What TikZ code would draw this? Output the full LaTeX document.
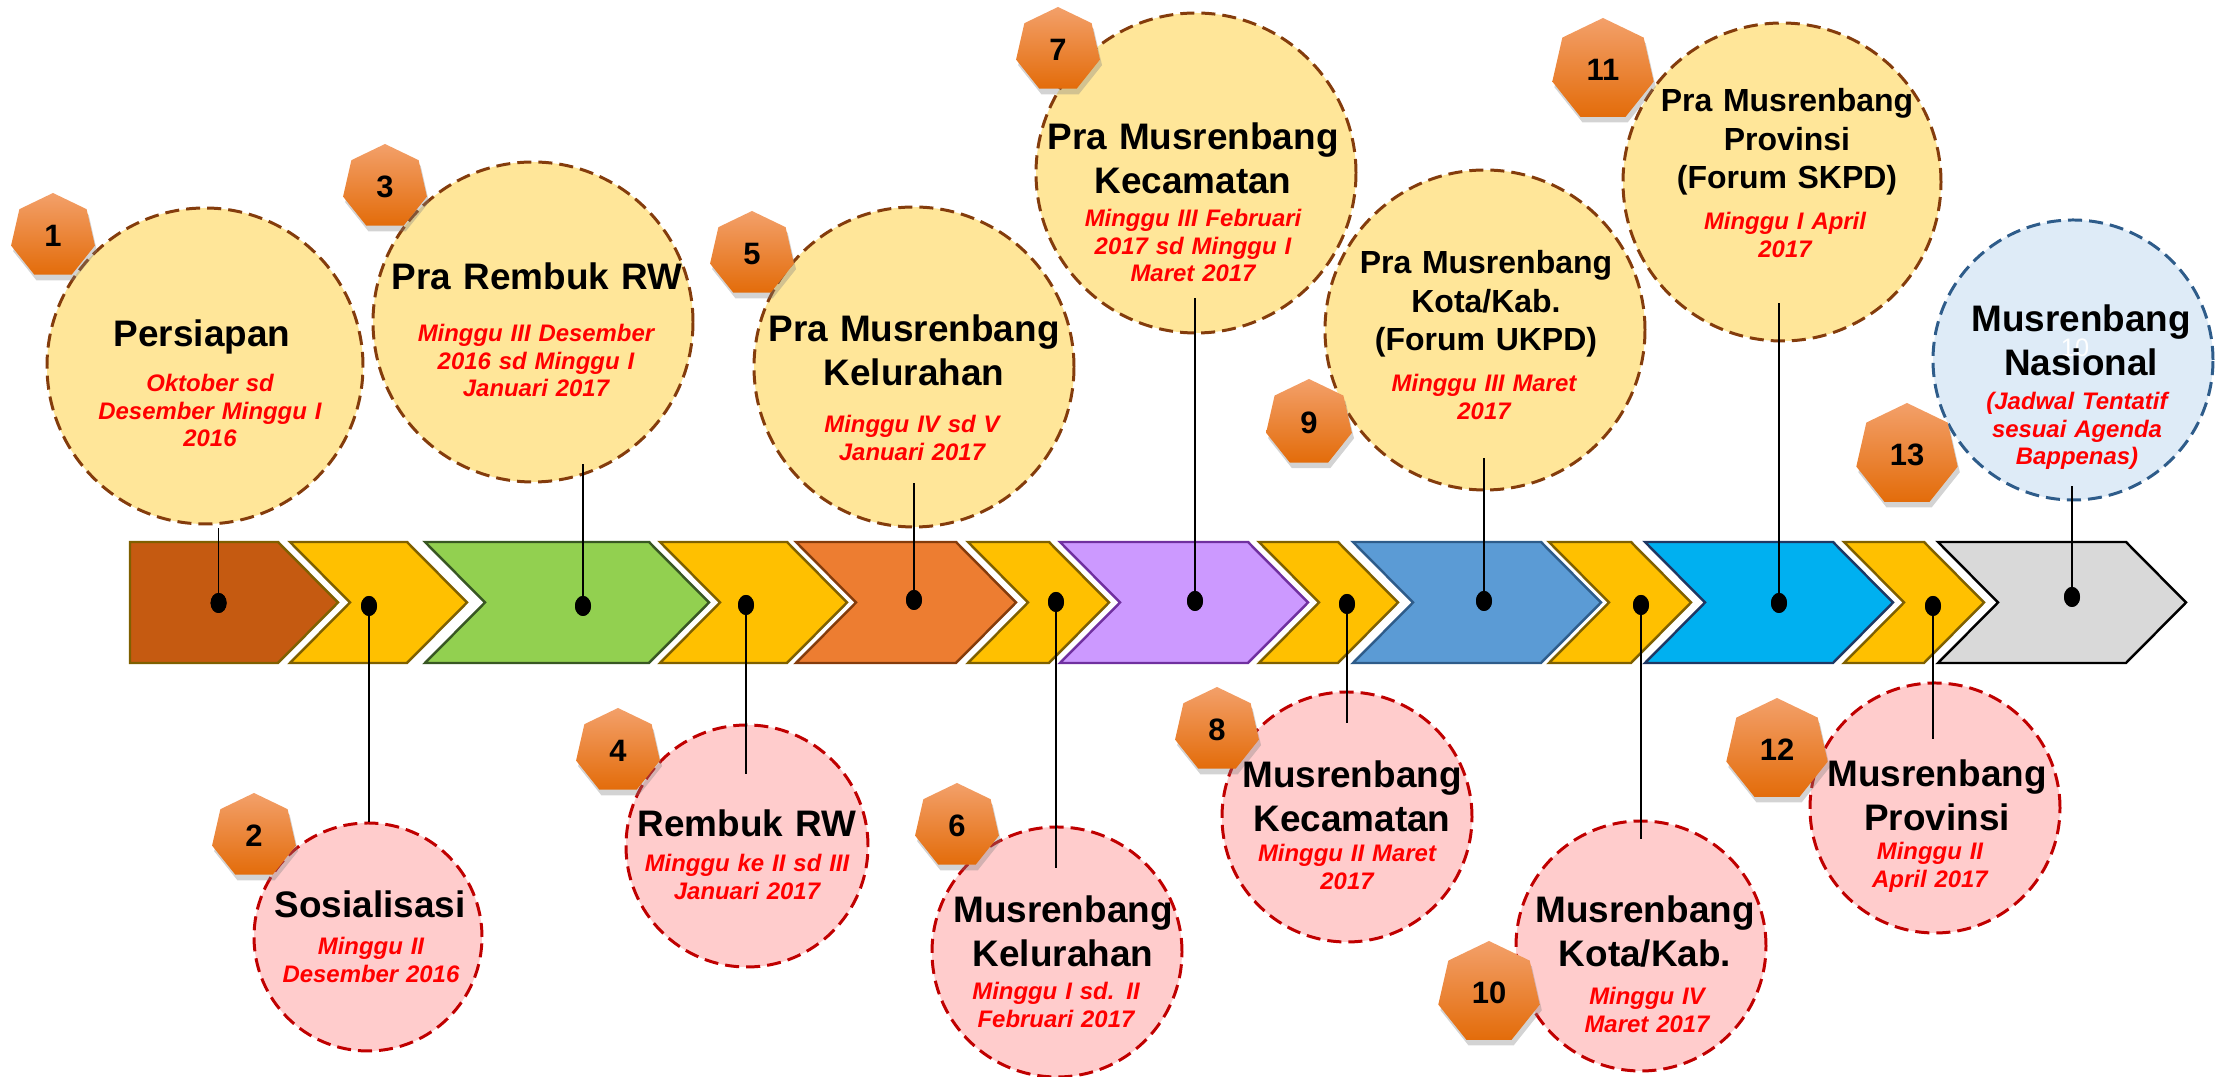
\documentclass[tikz,border=0pt]{standalone}
\usepackage{fontspec}
\setmainfont{Liberation Sans}
\usetikzlibrary{shapes.geometric,shadows}

\definecolor{chbrown}{HTML}{C55A11}
\definecolor{chyel}{HTML}{FFC000}
\definecolor{chgreen}{HTML}{92D050}
\definecolor{chorange}{HTML}{ED7D31}
\definecolor{chpurple}{HTML}{CC99FF}
\definecolor{chblue}{HTML}{5B9BD5}
\definecolor{chcyan}{HTML}{00B0F0}
\definecolor{chgray}{HTML}{D9D9D9}
\definecolor{lnolive}{HTML}{7F6000}
\definecolor{lngreen}{HTML}{385723}
\definecolor{lnbrown}{HTML}{843C0C}
\definecolor{lnpurple}{HTML}{7030A0}
\definecolor{lnblue}{HTML}{2E5C8A}
\definecolor{lnnavy}{HTML}{1F3864}
\definecolor{lnred}{HTML}{C00000}
\definecolor{topfill}{HTML}{FFE699}
\definecolor{botfill}{HTML}{FFCCCC}
\definecolor{natfill}{HTML}{DEEBF7}
\definecolor{hepttop}{HTML}{F3A06A}
\definecolor{heptmid}{HTML}{F58230}
\definecolor{heptbot}{HTML}{E36C0A}

\tikzset{
  chev/.style={line width=0.7pt, line join=miter},
  topcirc/.style={circle, draw=lnbrown, fill=topfill, line width=0.85pt, dash pattern=on 4pt off 2pt, inner sep=0pt},
  botcirc/.style={topcirc, draw=lnred, fill=botfill},
  natcirc/.style={topcirc, draw=lnblue, fill=natfill},
  badge/.style={regular polygon, regular polygon sides=7, inner sep=0pt, draw=none,
    top color=hepttop, middle color=heptmid, bottom color=heptbot,
    drop shadow={shadow xshift=0.6pt, shadow yshift=-1.6pt, opacity=0.35},
    font=\fontsize{8.8}{10}\selectfont\bfseries},
  stopdot/.style={ellipse, fill=black, minimum width=0.16cm, minimum height=0.2cm, inner sep=0pt},
  joinline/.style={black, line width=0.4pt},
  headtxt/.style={anchor=base, inner sep=0pt, text width=3.0cm, align=center,
    font=\fontsize{10.5}{12.5}\selectfont\bfseries},
  forumtxt/.style={headtxt, text width=2.7cm, font=\fontsize{9.1}{10.9}\selectfont\bfseries},
  whentxt/.style={anchor=base, inner sep=0pt, text width=2.5cm, align=center, text=red,
    font=\fontsize{6.8}{7.8}\selectfont\bfseries\itshape}
}

\begin{document}
\begin{tikzpicture}
    \useasboundingbox (0,0) rectangle (22.33,10.77);
    % arrow band
    \filldraw[chev, fill=chbrown, draw=lnolive] (1.30,5.35) -- (2.78,5.35) -- (3.38,4.745) -- (2.78,4.14) -- (1.30,4.14) -- cycle;
    \filldraw[chev, fill=chyel, draw=lnolive] (2.90,5.35) -- (4.07,5.35) -- (4.67,4.745) -- (4.07,4.14) -- (2.90,4.14) -- (3.50,4.745) -- cycle;
    \filldraw[chev, fill=chgreen, draw=lngreen] (4.25,5.35) -- (6.49,5.35) -- (7.09,4.745) -- (6.49,4.14) -- (4.25,4.14) -- (4.85,4.745) -- cycle;
    \filldraw[chev, fill=chyel, draw=lnolive] (6.60,5.35) -- (7.87,5.35) -- (8.47,4.745) -- (7.87,4.14) -- (6.60,4.14) -- (7.20,4.745) -- cycle;
    \filldraw[chev, fill=chorange, draw=lnbrown] (7.96,5.35) -- (9.56,5.35) -- (10.16,4.745) -- (9.56,4.14) -- (7.96,4.14) -- (8.56,4.745) -- cycle;
    \filldraw[chev, fill=chyel, draw=lnolive] (9.68,5.35) -- (10.49,5.35) -- (11.09,4.745) -- (10.49,4.14) -- (9.68,4.14) -- (10.28,4.745) -- cycle;
    \filldraw[chev, fill=chpurple, draw=lnpurple] (10.60,5.35) -- (12.48,5.35) -- (13.08,4.745) -- (12.48,4.14) -- (10.60,4.14) -- (11.20,4.745) -- cycle;
    \filldraw[chev, fill=chyel, draw=lnolive] (12.59,5.35) -- (13.38,5.35) -- (13.98,4.745) -- (13.38,4.14) -- (12.59,4.14) -- (13.19,4.745) -- cycle;
    \filldraw[chev, fill=chblue, draw=lnblue] (13.53,5.35) -- (15.41,5.35) -- (16.01,4.745) -- (15.41,4.14) -- (13.53,4.14) -- (14.13,4.745) -- cycle;
    \filldraw[chev, fill=chyel, draw=lnolive] (15.49,5.35) -- (16.31,5.35) -- (16.91,4.745) -- (16.31,4.14) -- (15.49,4.14) -- (16.09,4.745) -- cycle;
    \filldraw[chev, fill=chcyan, draw=lnnavy] (16.45,5.35) -- (18.33,5.35) -- (18.93,4.745) -- (18.33,4.14) -- (16.45,4.14) -- (17.05,4.745) -- cycle;
    \filldraw[chev, fill=chyel, draw=lnolive] (18.44,5.35) -- (19.24,5.35) -- (19.84,4.745) -- (19.24,4.14) -- (18.44,4.14) -- (19.04,4.745) -- cycle;
    \filldraw[chev, fill=chgray, draw=black] (19.38,5.35) -- (21.26,5.35) -- (21.86,4.745) -- (21.26,4.14) -- (19.38,4.14) -- (19.98,4.745) -- cycle;

    % bubbles
    \node[topcirc, minimum size=3.16cm] (c1) at (2.05,7.11) {};
    \node[topcirc, minimum size=3.20cm] (c3) at (5.33,7.55) {};
    \node[topcirc, minimum size=3.20cm] (c5) at (9.14,7.10) {};
    \node[topcirc, minimum size=3.20cm] (c7) at (11.96,9.04) {};
    \node[topcirc, minimum size=3.20cm] (c9) at (14.85,7.47) {};
    \node[topcirc, minimum size=3.18cm] (c11) at (17.82,8.95) {};
    \node[natcirc, minimum size=2.80cm] (c13) at (20.73,7.17) {};
    \node[botcirc, minimum size=2.28cm] (c2) at (3.68,1.40) {};
    \node[botcirc, minimum size=2.42cm] (c4) at (7.47,2.31) {};
    \node[botcirc, minimum size=2.50cm] (c6) at (10.57,1.25) {};
    \node[botcirc, minimum size=2.50cm] (c8) at (13.47,2.60) {};
    \node[botcirc, minimum size=2.50cm] (c10) at (16.41,1.31) {};
    \node[botcirc, minimum size=2.50cm] (c12) at (19.35,2.69) {};

    % numbers
    \node[badge, minimum size=0.86cm] (n1) at (0.53,8.41) {1};
    \node[badge, minimum size=0.86cm] (n2) at (2.54,2.41) {2};
    \node[badge, minimum size=0.86cm] (n3) at (3.85,8.90) {3};
    \node[badge, minimum size=0.86cm] (n4) at (6.18,3.26) {4};
    \node[badge, minimum size=0.86cm] (n5) at (7.52,8.23) {5};
    \node[badge, minimum size=0.86cm] (n6) at (9.57,2.51) {6};
    \node[badge, minimum size=0.86cm] (n7) at (10.58,10.27) {7};
    \node[badge, minimum size=0.86cm] (n8) at (12.17,3.47) {8};
    \node[badge, minimum size=0.88cm] (n9) at (13.09,6.54) {9};
    \node[badge, minimum size=1.04cm] (n10) at (14.89,0.84) {10};
    \node[badge, minimum size=1.04cm] (n11) at (16.03,10.07) {11};
    \node[badge, minimum size=1.04cm] (n12) at (17.77,3.27) {12};
    \node[badge, minimum size=1.04cm] (n13) at (19.07,6.22) {13};

    % dots on the band
    \node[stopdot] (d1) at (2.186,4.74) {};
    \node[stopdot] (d2) at (3.69,4.71) {};
    \node[stopdot] (d3) at (5.83,4.71) {};
    \node[stopdot] (d4) at (7.46,4.72) {};
    \node[stopdot] (d5) at (9.14,4.77) {};
    \node[stopdot] (d6) at (10.56,4.75) {};
    \node[stopdot] (d7) at (11.95,4.76) {};
    \node[stopdot] (d8) at (13.47,4.73) {};
    \node[stopdot] (d9) at (14.84,4.76) {};
    \node[stopdot] (d10) at (16.41,4.72) {};
    \node[stopdot] (d11) at (17.79,4.74) {};
    \node[stopdot] (d12) at (19.33,4.71) {};
    \node[stopdot] (d13) at (20.72,4.80) {};

    \coordinate (e1) at (2.186,5.49);
    \coordinate (e2) at (3.69,2.55);
    \coordinate (e3) at (5.83,6.13);
    \coordinate (e4) at (7.46,3.03);
    \coordinate (e5) at (9.14,5.94);
    \coordinate (e6) at (10.56,2.09);
    \coordinate (e7) at (11.95,7.79);
    \coordinate (e8) at (13.47,3.54);
    \coordinate (e9) at (14.84,6.19);
    \coordinate (e10) at (16.41,2.38);
    \coordinate (e11) at (17.79,7.74);
    \coordinate (e12) at (19.33,3.38);
    \coordinate (e13) at (20.72,5.91);
    \draw[joinline] (d1.center) -- (e1);
    \draw[joinline] (d2.center) -- (e2);
    \draw[joinline] (d3.center) -- (e3);
    \draw[joinline] (d4.center) -- (e4);
    \draw[joinline] (d5.center) -- (e5);
    \draw[joinline] (d6.center) -- (e6);
    \draw[joinline] (d7.center) -- (e7);
    \draw[joinline] (d8.center) -- (e8);
    \draw[joinline] (d9.center) -- (e9);
    \draw[joinline] (d10.center) -- (e10);
    \draw[joinline] (d11.center) -- (e11);
    \draw[joinline] (d12.center) -- (e12);
    \draw[joinline] (d13.center) -- (e13);
    \node[stopdot] at (d1) {};
    \node[stopdot] at (d2) {};
    \node[stopdot] at (d3) {};
    \node[stopdot] at (d4) {};
    \node[stopdot] at (d5) {};
    \node[stopdot] at (d6) {};
    \node[stopdot] at (d7) {};
    \node[stopdot] at (d8) {};
    \node[stopdot] at (d9) {};
    \node[stopdot] at (d10) {};
    \node[stopdot] at (d11) {};
    \node[stopdot] at (d12) {};
    \node[stopdot] at (d13) {};

    % texts above the band
    \node[headtxt] (t1) at (2.02,7.30) {Persiapan};
    \node[whentxt] (w1) at (2.10,6.85) {Oktober sd\\Desember Minggu I\\2016};
    \node[headtxt] (t3) at (5.37,7.87) {Pra Rembuk RW};
    \node[whentxt] (w3) at (5.36,7.35) {Minggu III Desember\\2016 sd Minggu I\\Januari 2017};
    \node[headtxt] (t5) at (9.14,7.35) {Pra Musrenbang\\Kelurahan};
    \node[whentxt] (w5) at (9.12,6.44) {Minggu IV sd V\\Januari 2017};
    \node[headtxt] (t7) at (11.93,9.27) {Pra Musrenbang\\Kecamatan};
    \node[whentxt] (w7) at (11.93,8.50) {Minggu III Februari\\2017 sd Minggu I\\Maret 2017};
    \node[forumtxt] (t9) at (14.86,8.03) {Pra Musrenbang\\Kota/Kab.\\(Forum UKPD)};
    \node[whentxt] (w9) at (14.84,6.85) {Minggu III Maret\\2017};
    \node[forumtxt] (t11) at (17.87,9.65) {Pra Musrenbang\\Provinsi\\(Forum SKPD)};
    \node[whentxt] (w11) at (17.85,8.47) {Minggu I April\\2017};
    \node[anchor=base, text=white, font=\fontsize{7.2}{8}\selectfont] (g13) at (20.75,7.20) {10};
    \node[headtxt] (t13) at (20.81,7.45) {Musrenbang\\Nasional};
    \node[whentxt] (w13) at (20.77,6.67) {(Jadwal Tentatif\\sesuai Agenda\\Bappenas)};

    % texts below the band
    \node[headtxt] (t2) at (3.70,1.59) {Sosialisasi};
    \node[whentxt] (w2) at (3.71,1.22) {Minggu II\\Desember 2016};
    \node[headtxt] (t4) at (7.47,2.40) {Rembuk RW};
    \node[whentxt] (w4) at (7.47,2.05) {Minggu ke II sd III\\Januari 2017};
    \node[headtxt] (t6) at (10.63,1.54) {Musrenbang\\Kelurahan};
    \node[whentxt] (w6) at (10.56,0.77) {Minggu I sd. II\\Februari 2017};
    \node[headtxt] (t8) at (13.52,2.89) {Musrenbang\\Kecamatan};
    \node[whentxt] (w8) at (13.47,2.15) {Minggu II Maret\\2017};
    \node[headtxt] (t10) at (16.45,1.54) {Musrenbang\\Kota/Kab.};
    \node[whentxt] (w10) at (16.47,0.72) {Minggu IV\\Maret 2017};
    \node[headtxt] (t12) at (19.37,2.90) {Musrenbang\\Provinsi};
    \node[whentxt] (w12) at (19.30,2.17) {Minggu II\\April 2017};
\end{tikzpicture}
\end{document}
